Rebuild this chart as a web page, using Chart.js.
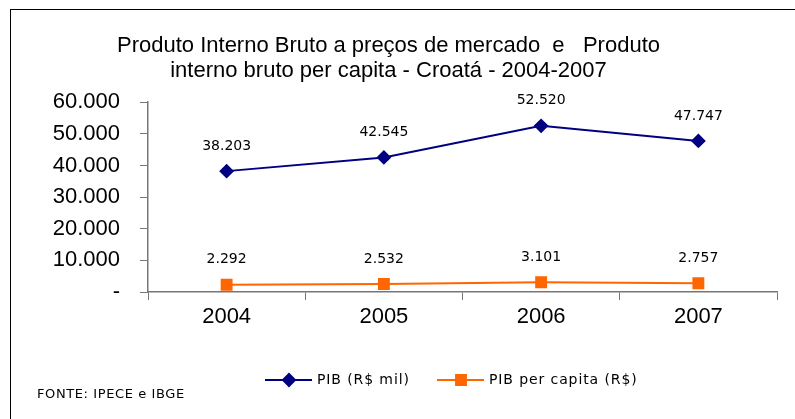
<!DOCTYPE html>
<html>
<head>
<meta charset="utf-8">
<script src="https://cdn.jsdelivr.net/npm/chart.js@4.4.1/dist/chart.umd.min.js"></script>
<style>
  html, body { margin: 0; padding: 0; background: #fff; }
  #wrap { position: relative; width: 795px; height: 419px; overflow: hidden; }
  #frame { position: absolute; left: 10px; top: 9px; right: -2px; bottom: -2px; border-top: 1px solid #000; border-left: 1px solid #000; }
  canvas { position: absolute; left: 0; top: 0; }
</style>
</head>
<body>
<div id="wrap">
  <div id="frame"></div>
  <canvas id="chart" width="795" height="419"></canvas>
</div>
<script>
// data
const years = ["2004", "2005", "2006", "2007"];
const pibMil = [38203, 42545, 52520, 47747];
const pibPerCapita = [2292, 2532, 3101, 2757];
const seriesNames = ["PIB (R$ mil)", "PIB per capita (R$)"];
const yMin = 0;
const yMax = 60000;
const yStep = 10000;
const titleLines = [
  "Produto Interno Bruto a preços de mercado  e   Produto",
  "interno bruto per capita - Croatá - 2004-2007"
];
const sourceNote = "FONTE: IPECE e IBGE";

function fmt(v) {
  return String(Math.round(v)).replace(/\B(?=(\d{3})+(?!\d))/g, ".");
}

// value labels above each point
const valueLabels = {
  id: "valueLabels",
  afterDatasetsDraw(chart) {
    const ctx = chart.ctx;
    ctx.save();
    ctx.font = "14px 'DejaVu Sans'";
    ctx.fillStyle = "#000";
    ctx.textAlign = "center";
    ctx.textBaseline = "middle";
    chart.data.datasets.forEach((ds, i) => {
      chart.getDatasetMeta(i).data.forEach((pt, j) => {
        ctx.fillText(fmt(ds.data[j]), pt.x, pt.y - 25);
      });
    });
    ctx.restore();
  }
};

// legend with line + marker, and the source note
const bottomLegend = {
  id: "bottomLegend",
  afterDraw(chart) {
    const ctx = chart.ctx;
    const starts = [265, 437];
    const y = 380;
    ctx.save();
    chart.data.datasets.forEach((ds, i) => {
      const x = starts[i];
      ctx.strokeStyle = ds.borderColor;
      ctx.lineWidth = 2;
      ctx.beginPath();
      ctx.moveTo(x, y);
      ctx.lineTo(x + 47, y);
      ctx.stroke();
      ctx.fillStyle = ds.pointBackgroundColor;
      ctx.strokeStyle = ds.pointBorderColor;
      Chart.helpers.drawPoint(ctx, {
        pointStyle: ds.pointStyle,
        radius: ds.pointRadius,
        borderWidth: 1
      }, x + 24, y);
      ctx.fillStyle = "#000";
      ctx.font = "14px 'DejaVu Sans'";
      ctx.letterSpacing = "0.9px";
      ctx.textAlign = "left";
      ctx.textBaseline = "middle";
      ctx.fillText(ds.label, x + 52, y);
    });
    ctx.font = "13px 'DejaVu Sans'";
    ctx.letterSpacing = "0.6px";
    ctx.fillStyle = "#000";
    ctx.textAlign = "left";
    ctx.textBaseline = "middle";
    ctx.fillText(sourceNote, 37, 395);
    ctx.restore();
  }
};

const ctx = document.getElementById("chart").getContext("2d");
new Chart(ctx, {
  type: "line",
  data: {
    labels: years,
    datasets: [
      {
        label: seriesNames[0],
        data: pibMil,
        borderColor: "#000080",
        backgroundColor: "#000080",
        pointBackgroundColor: "#000080",
        pointBorderColor: "#000080",
        borderWidth: 2,
        pointStyle: "rectRot",
        pointRadius: 6,
        tension: 0
      },
      {
        label: seriesNames[1],
        data: pibPerCapita,
        borderColor: "#ff6600",
        backgroundColor: "#ff6600",
        pointBackgroundColor: "#ff6600",
        pointBorderColor: "#ff6600",
        borderWidth: 2,
        pointStyle: "rect",
        pointRadius: 7,
        tension: 0
      }
    ]
  },
  options: {
    responsive: false,
    animation: false,
    devicePixelRatio: 1,
    layout: { padding: { left: 0, right: 18, top: 0, bottom: 77 } },
    plugins: {
      legend: { display: false },
      tooltip: { enabled: false },
      title: {
        display: true,
        text: titleLines,
        color: "#000",
        font: { family: "'Liberation Sans'", size: 22, weight: "normal", lineHeight: 1.14 },
        padding: { top: 33, bottom: 19 }
      }
    },
    scales: {
      x: {
        offset: true,
        grid: { display: true, drawOnChartArea: false, offset: true, tickLength: 8, color: "#777" },
        border: { color: "#777", width: 1.5 },
        ticks: { color: "#000", padding: 4, font: { family: "'Liberation Sans'", size: 22 } },
        afterFit(scale) { scale.height = 50; }
      },
      y: {
        min: yMin,
        max: yMax,
        grid: { display: true, drawOnChartArea: false, tickLength: 8, color: "#777" },
        border: { color: "#777", width: 1.5 },
        ticks: {
          stepSize: yStep,
          color: "#000",
          padding: 20,
          font: { family: "'Liberation Sans'", size: 22 },
          callback: (v) => (v === 0 ? "-" : fmt(v))
        },
        afterFit(scale) { scale.width = 148; }
      }
    }
  },
  plugins: [valueLabels, bottomLegend]
});
</script>
</body>
</html>
